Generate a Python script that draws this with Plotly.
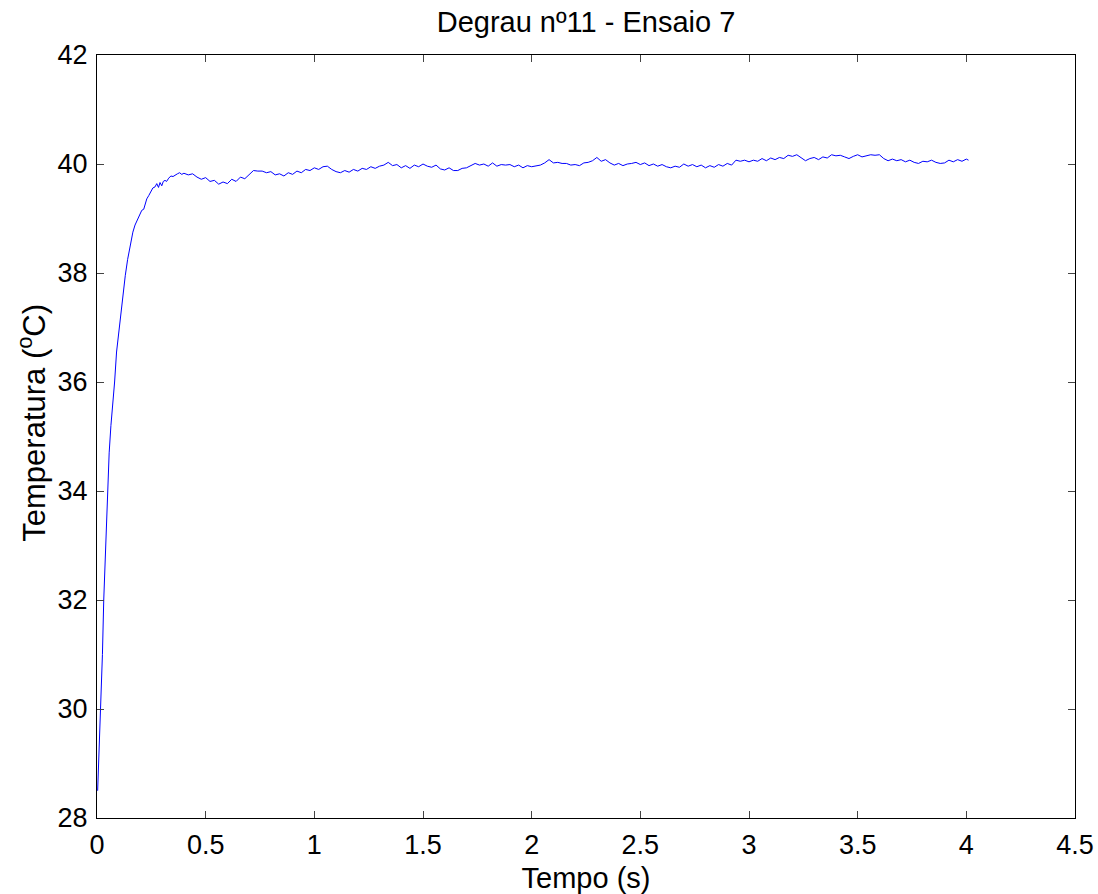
import plotly.graph_objects as go

tempo = [0.003, 0.010, 0.018, 0.025, 0.031, 0.040, 0.048, 0.056, 0.064, 0.072,
         0.081, 0.090, 0.098, 0.107, 0.118, 0.130, 0.141, 0.153, 0.165, 0.175,
         0.183, 0.195, 0.206, 0.215, 0.222, 0.229, 0.238, 0.248, 0.257, 0.267,
         0.275, 0.283, 0.290, 0.298, 0.305, 0.313, 0.320, 0.330, 0.340, 0.350,
         0.360, 0.370, 0.380, 0.390,
         0.40, 0.42, 0.44, 0.46, 0.48, 0.50, 0.52, 0.54, 0.56, 0.58,
         0.60, 0.62, 0.64, 0.66, 0.68, 0.70, 0.72, 0.74, 0.76, 0.78,
         0.80, 0.82, 0.84, 0.86, 0.88, 0.90, 0.92, 0.94, 0.96, 0.98,
         1.00, 1.02, 1.04, 1.06, 1.08, 1.10, 1.12, 1.14, 1.16, 1.18,
         1.20, 1.22, 1.24, 1.26, 1.28, 1.30, 1.32, 1.34, 1.36, 1.38,
         1.40, 1.42, 1.44, 1.46, 1.48, 1.50, 1.52, 1.54, 1.56, 1.58,
         1.60, 1.62, 1.64, 1.66, 1.68, 1.70, 1.72, 1.74, 1.76, 1.78,
         1.80, 1.82, 1.84, 1.86, 1.88, 1.90, 1.92, 1.94, 1.96, 1.98,
         2.00, 2.02, 2.04, 2.06, 2.08, 2.10, 2.12, 2.14, 2.16, 2.18,
         2.20, 2.22, 2.24, 2.26, 2.28, 2.30, 2.32, 2.34, 2.36, 2.38,
         2.40, 2.42, 2.44, 2.46, 2.48, 2.50, 2.52, 2.54, 2.56, 2.58,
         2.60, 2.62, 2.64, 2.66, 2.68, 2.70, 2.72, 2.74, 2.76, 2.78,
         2.80, 2.82, 2.84, 2.86, 2.88, 2.90, 2.92, 2.94, 2.96, 2.98,
         3.00, 3.02, 3.04, 3.06, 3.08, 3.10, 3.12, 3.14, 3.16, 3.18,
         3.20, 3.22, 3.24, 3.26, 3.28, 3.30, 3.32, 3.34, 3.36, 3.38,
         3.40, 3.42, 3.44, 3.46, 3.48, 3.50, 3.52, 3.54, 3.56, 3.58,
         3.60, 3.62, 3.64, 3.66, 3.68, 3.70, 3.72, 3.74, 3.76, 3.78,
         3.80, 3.82, 3.84, 3.86, 3.88, 3.90, 3.92, 3.94, 3.96, 3.98,
         4.00, 4.01]

temperatura = [28.50, 29.20, 30.00, 31.00, 32.00, 33.10, 34.00, 34.70, 35.20, 35.55,
               36.00, 36.55, 36.85, 37.10, 37.55, 37.95, 38.25, 38.50, 38.75, 38.88,
               38.95, 39.08, 39.15, 39.17, 39.28, 39.36, 39.42, 39.50, 39.56, 39.58,
               39.64, 39.57, 39.66, 39.60, 39.68, 39.70, 39.68, 39.74, 39.78, 39.77,
               39.80, 39.82, 39.84, 39.81,
               39.83, 39.80, 39.82, 39.76, 39.72, 39.75, 39.68, 39.70, 39.63, 39.67,
               39.64, 39.72, 39.68, 39.76, 39.73, 39.80, 39.88, 39.87, 39.87, 39.84,
               39.86, 39.80, 39.82, 39.78, 39.84, 39.81, 39.87, 39.84, 39.90, 39.88,
               39.93, 39.90, 39.95, 39.96, 39.90, 39.86, 39.84, 39.88, 39.85, 39.90,
               39.87, 39.92, 39.90, 39.95, 39.92, 39.96, 39.98, 40.03, 39.97, 39.99,
               39.93, 39.97, 39.92, 39.98, 39.95, 40.00, 39.96, 39.94, 39.98, 39.91,
               39.89, 39.93, 39.88, 39.88, 39.92, 39.93, 39.97, 40.01, 39.98, 40.00,
               39.96, 40.02, 39.96, 39.99, 39.98, 39.99, 39.95, 39.98, 39.93, 39.97,
               39.95, 39.96, 39.98, 40.02, 40.08, 40.02, 40.03, 40.01, 40.01, 39.98,
               39.99, 39.97, 40.02, 40.03, 40.06, 40.12, 40.05, 40.08, 40.02, 39.98,
               40.01, 39.97, 40.00, 40.01, 40.03, 39.99, 40.02, 39.97, 40.00, 39.96,
               39.99, 39.95, 39.93, 39.96, 39.94, 40.00, 39.96, 39.99, 39.95, 39.98,
               39.93, 39.97, 39.94, 39.99, 39.96, 40.01, 39.98, 40.07, 40.05, 40.07,
               40.04, 40.07, 40.05, 40.10, 40.06, 40.11, 40.08, 40.12, 40.10, 40.16,
               40.14, 40.17, 40.12, 40.06, 40.10, 40.12, 40.08, 40.13, 40.11, 40.17,
               40.15, 40.16, 40.13, 40.10, 40.14, 40.17, 40.13, 40.15, 40.17, 40.16,
               40.17, 40.10, 40.06, 40.09, 40.06, 40.08, 40.04, 40.07, 40.03, 40.01,
               40.05, 40.04, 40.07, 40.03, 40.01, 40.02, 40.07, 40.04, 40.08, 40.05,
               40.09, 40.07]

x_ticks = [0, 0.5, 1, 1.5, 2, 2.5, 3, 3.5, 4, 4.5]
x_tick_labels = ["0", "0.5", "1", "1.5", "2", "2.5", "3", "3.5", "4", "4.5"]
y_ticks = [28, 30, 32, 34, 36, 38, 40, 42]
y_tick_labels = ["28", "30", "32", "34", "36", "38", "40", "42"]

font_family = "Liberation Sans, Arial, sans-serif"

fig = go.Figure()
fig.add_trace(go.Scatter(x=tempo, y=temperatura, mode="lines",
                         line=dict(color="#0000FF", width=1), showlegend=False))

axis_common = dict(showline=True, linecolor="black", linewidth=1, mirror="allticks",
                   ticks="inside", ticklen=7, tickcolor="#444444", showgrid=False,
                   zeroline=False, ticklabelstandoff=3, automargin=False,
                   tickfont=dict(family=font_family, size=27, color="black"))

fig.update_layout(
    width=1098, height=894,
    margin=dict(l=97, r=23, t=55, b=76),
    paper_bgcolor="white", plot_bgcolor="white",
    title=dict(text="Degrau nº11 - Ensaio 7", x=0.5, xref="paper", xanchor="center", y=0.9754, yanchor="middle",
               font=dict(family=font_family, size=29, color="black")),
    xaxis=dict(range=[0, 4.5], tickvals=x_ticks, ticktext=x_tick_labels,
               title=dict(text="Tempo (s)", font=dict(family=font_family, size=29, color="black"), standoff=11),
               **axis_common),
    yaxis=dict(range=[28, 42], tickvals=y_ticks, ticktext=y_tick_labels, **axis_common),
    annotations=[dict(text="Temperatura (<sup>o</sup>C)", textangle=-90, showarrow=False,
                      xref="paper", yref="paper", x=-0.0665, y=0.518,
                      xanchor="center", yanchor="middle",
                      font=dict(family=font_family, size=31, color="black"))],
)

fig.write_html("out.html")
